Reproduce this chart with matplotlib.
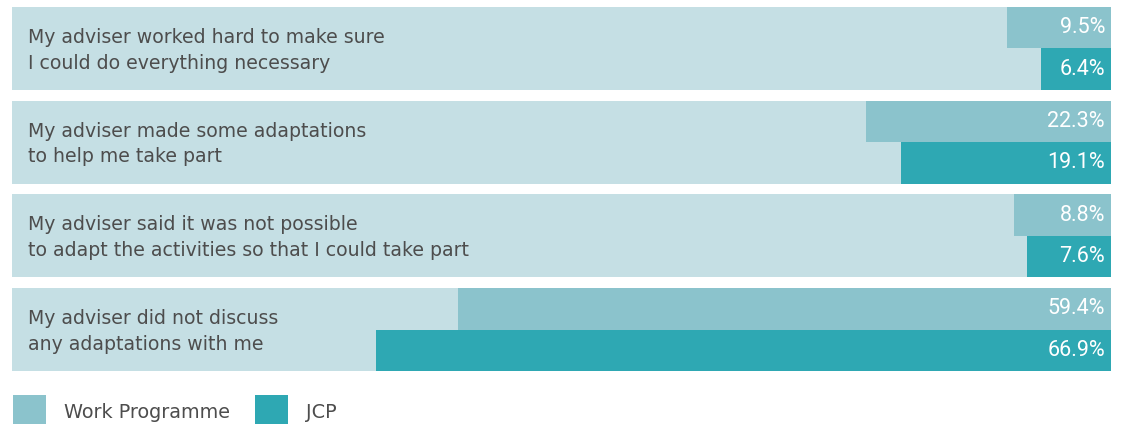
import matplotlib
matplotlib.use("Agg")
import matplotlib.pyplot as plt
from matplotlib.patches import Rectangle

categories = [
    "My adviser worked hard to make sure\nI could do everything necessary",
    "My adviser made some adaptations\nto help me take part",
    "My adviser said it was not possible\nto adapt the activities so that I could take part",
    "My adviser did not discuss\nany adaptations with me",
]
series_names = ["Work Programme", "JCP"]
work_programme = [9.5, 22.3, 8.8, 59.4]
jcp = [6.4, 19.1, 7.6, 66.9]

BG = "#c5dfe4"
C_WP = "#8bc3cc"
C_JCP = "#2ea8b3"
TXT = "#4d4d4d"

W, H = 1121, 424
fig = plt.figure(figsize=(W / 100, H / 100), dpi=100)
ax = fig.add_axes([12 / W, (H - 371) / H, 1099 / W, 364 / H])

ph = 0.886
bh = ph / 2
for i, (lab, wp, jc) in enumerate(zip(categories, work_programme, jcp)):
    ax.barh(i, 100, height=ph, color=BG, edgecolor="none")
    ax.barh(i - bh / 2, wp, left=100 - wp, height=bh, color=C_WP, edgecolor="none")
    ax.barh(i + bh / 2, jc, left=100 - jc, height=bh, color=C_JCP, edgecolor="none")
    ax.text(1.45, i + 0.02, lab, ha="left", va="center", fontsize=13.6,
            color=TXT, linespacing=1.45, family="DejaVu Sans")
    ax.text(99.45, i - bh / 2, f"{wp:.1f}%", ha="right", va="center",
            fontsize=15.5, color="white", family="Roboto")
    ax.text(99.45, i + bh / 2, f"{jc:.1f}%", ha="right", va="center",
            fontsize=15.5, color="white", family="Roboto")

ax.set_xlim(0, 100)
ax.set_ylim(3 + ph / 2, -ph / 2)
ax.axis("off")

# legend
colors = [C_WP, C_JCP]
xs = [13, 255]
for name, c, x0 in zip(series_names, colors, xs):
    fig.patches.append(Rectangle((x0 / W, 0), 33 / W, 29 / H, transform=fig.transFigure,
                                 facecolor=c, edgecolor="none"))
    fig.text((x0 + 51) / W, (H - 412) / H, name, ha="left", va="center",
             fontsize=13.9, color=TXT, family="DejaVu Sans")

fig.savefig("out.png", dpi=100)
